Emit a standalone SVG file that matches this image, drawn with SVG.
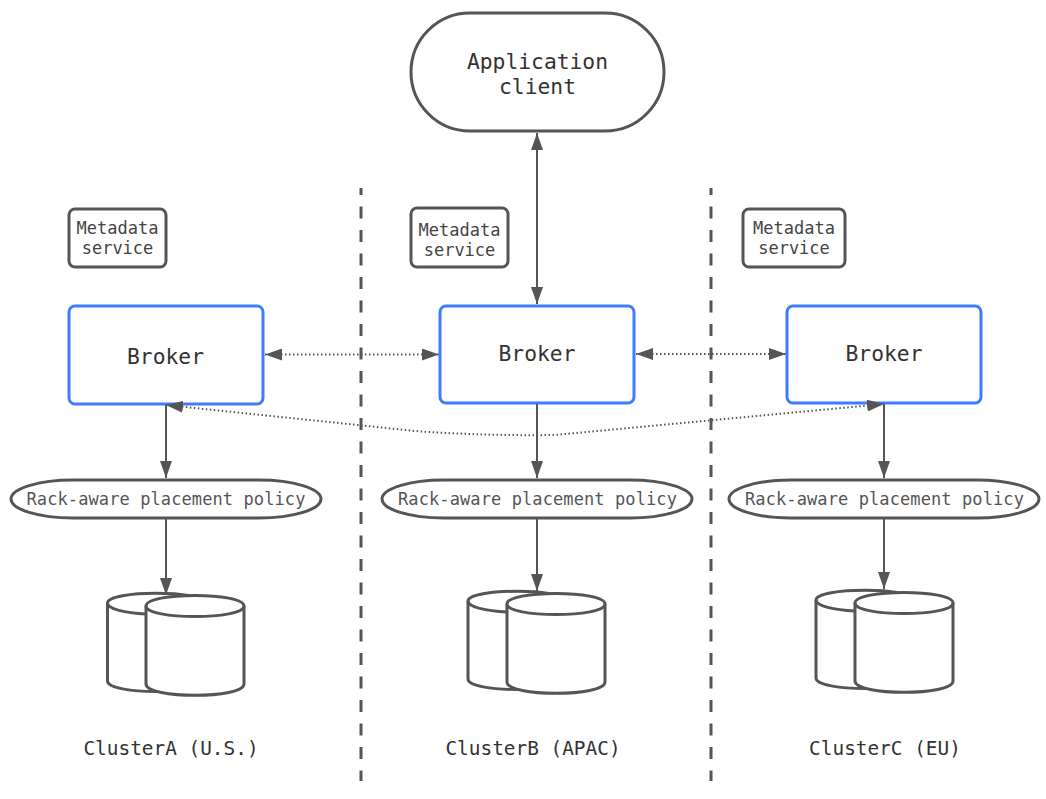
<svg xmlns="http://www.w3.org/2000/svg" width="1046" height="799" viewBox="0 0 1046 799">
<defs>
<marker id="ah" viewBox="0 0 17 12" refX="17" refY="6" markerWidth="17" markerHeight="12" markerUnits="userSpaceOnUse" orient="auto-start-reverse"><path d="M0 0L17 6L0 12Z" fill="#555"/></marker>
</defs>
<style>
text{font-family:"DejaVu Sans Mono","Liberation Mono",monospace;text-anchor:middle}
.s{fill:#fff;stroke:#555;stroke-width:3}
.b{fill:#fff;stroke:#3f7bff;stroke-width:3}
.c{fill:none;stroke:#555;stroke-width:2}
.e{fill:none;stroke:#555;stroke-width:3}
.d{fill:none;stroke:#555;stroke-width:2;stroke-dasharray:1.5 2.5}
.v{fill:none;stroke:#555;stroke-width:3;stroke-dasharray:12 11.5;stroke-dashoffset:5}
.big{font-size:21.3px;fill:#333}
.m{font-size:17px;fill:#444}
.p{font-size:17px;fill:#555;letter-spacing:.1px}
.l{font-size:19.4px;fill:#333}
</style>
<rect width="1046" height="799" fill="#fff"/>
<g id="dividers"><path class="v" d="M361 188V781"/><path class="v" d="M711 188V781"/></g>
<g id="client"><rect class="s" x="411" y="13" width="253" height="118" rx="59"/><text class="big" x="537.500" y="69">Application</text><text class="big" x="537.500" y="94">client</text></g>
<g id="meta-a"><rect class="s" x="69" y="209" width="97" height="58" rx="6"/><text class="m" x="117.500" y="233.500">Metadata</text><text class="m" x="117.500" y="253.500">service</text></g>
<g id="meta-b"><rect class="s" x="411" y="208" width="97" height="59" rx="6"/><text class="m" x="459.500" y="235.500">Metadata</text><text class="m" x="459.500" y="255.500">service</text></g>
<g id="meta-c"><rect class="s" x="743" y="209" width="102" height="58" rx="6"/><text class="m" x="794" y="233.500">Metadata</text><text class="m" x="794" y="253.500">service</text></g>
<g id="broker-a"><rect class="b" x="69" y="306" width="194" height="98" rx="6"/><text class="big" x="165.500" y="364">Broker</text></g>
<g id="broker-b"><rect class="b" x="440" y="306" width="194" height="97" rx="6"/><text class="big" x="537" y="361">Broker</text></g>
<g id="broker-c"><rect class="b" x="787" y="306" width="194" height="97" rx="6"/><text class="big" x="884" y="361">Broker</text></g>
<g id="policy-a"><rect class="s" x="11" y="480" width="310" height="38" rx="62" ry="19"/><text class="p" x="166" y="504.500">Rack-aware placement policy</text></g>
<g id="policy-b"><rect class="s" x="382" y="480" width="310" height="38" rx="62" ry="19"/><text class="p" x="537.500" y="504.500">Rack-aware placement policy</text></g>
<g id="policy-c"><rect class="s" x="729" y="480" width="310" height="38" rx="62" ry="19"/><text class="p" x="884.500" y="504.500">Rack-aware placement policy</text></g>
<g id="disks-a"><path class="s" d="M107.500 603C107.500 590 205 590 205 603V681C205 695 107.500 695 107.500 681Z"/><path class="e" d="M107.500 603C107.500 609 125 613 146 614"/><path class="s" d="M146 606C146 592 244 592 244 606V684C244 699 146 699 146 684Z"/><path class="s" d="M146 606C146 620 244 620 244 606"/></g>
<g id="disks-b"><path class="s" d="M468 601C468 588 566 588 566 601V679C566 693 468 693 468 679Z"/><path class="e" d="M468 601C468 607 486 611 507 612"/><path class="s" d="M507 604C507 590 605 590 605 604V682C605 697 507 697 507 682Z"/><path class="s" d="M507 604C507 618 605 618 605 604"/></g>
<g id="disks-c"><path class="s" d="M816 600C816 587 914 587 914 600V678C914 692 816 692 816 678Z"/><path class="e" d="M816 600C816 606 834 610 855 611"/><path class="s" d="M855 603C855 589 953 589 953 603V681C953 696 855 696 855 681Z"/><path class="s" d="M855 603C855 617 953 617 953 603"/></g>
<g id="connectors">
<path class="c" marker-start="url(#ah)" marker-end="url(#ah)" d="M537 133V304"/>
<path class="c" marker-end="url(#ah)" d="M166 405V478"/>
<path class="c" marker-end="url(#ah)" d="M537 404V478"/>
<path class="c" marker-end="url(#ah)" d="M884 404V478"/>
<path class="c" marker-end="url(#ah)" d="M166 519V595"/>
<path class="c" marker-end="url(#ah)" d="M537 519V591"/>
<path class="c" marker-end="url(#ah)" d="M884 519V589"/>
<path class="d" marker-start="url(#ah)" marker-end="url(#ah)" d="M265 354.500H439"/>
<path class="d" marker-start="url(#ah)" marker-end="url(#ah)" d="M636 354H786"/>
<path class="d" marker-start="url(#ah)" marker-end="url(#ah)" d="M166 405L415 431Q485 436 555 435L884 404"/>
</g>
<g id="labels"><text class="l" x="171" y="755">ClusterA (U.S.)</text><text class="l" x="533" y="755">ClusterB (APAC)</text><text class="l" x="885" y="755">ClusterC (EU)</text></g>
</svg>
